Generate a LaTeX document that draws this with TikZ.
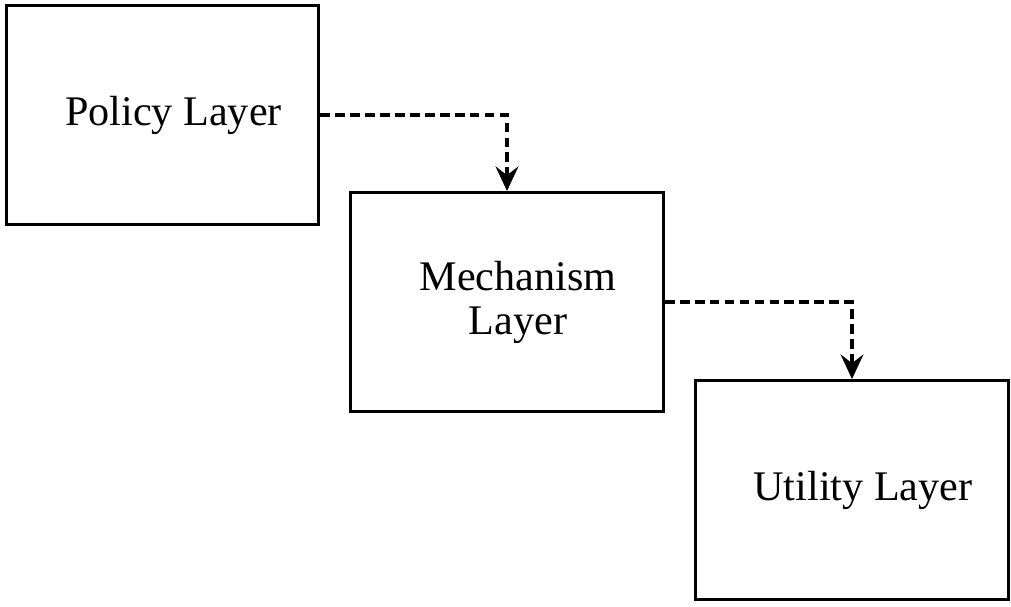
\documentclass[tikz,border=0pt]{standalone}
\usepackage{fontspec}
\setmainfont{Liberation Serif}
\usepackage{xcolor}
\usetikzlibrary{positioning}
\usetikzlibrary{arrows.meta}
\usetikzlibrary{calc}
\tikzstyle{layer}=[rectangle,draw=black,line width=1.7pt,minimum width=6.26cm,minimum height=4.38cm,inner sep=0pt,align=center,font=\fontsize{24}{25}\selectfont]
\tikzstyle{flow} = [draw,line width=1.8pt,dash pattern=on 5.5pt off 3pt,-{Stealth[length=14pt,width=13pt,inset=5pt]}]
\newcommand{\sh}{\hspace*{0.44cm}}
\begin{document}
\begin{tikzpicture}[x=0.02cm,y=-0.02cm]

  \useasboundingbox (0,0) rectangle (1011,607);

  % layers of the stack
  \foreach \x/\y/\name/\label in {162.5/115/policy/{\sh Policy Layer}, 507/302/mechanism/{\sh Mechanism\\\sh Layer}, 852/490/utility/{\sh Utility Layer}}
     \node[layer] (\name) at (\x, \y) {\label};

  % dashed links down the stack
  \foreach \source/ \dest in {policy/mechanism, mechanism/utility}
     \path[flow] (\source.east) -| (\dest.north);

\end{tikzpicture}
\end{document}
